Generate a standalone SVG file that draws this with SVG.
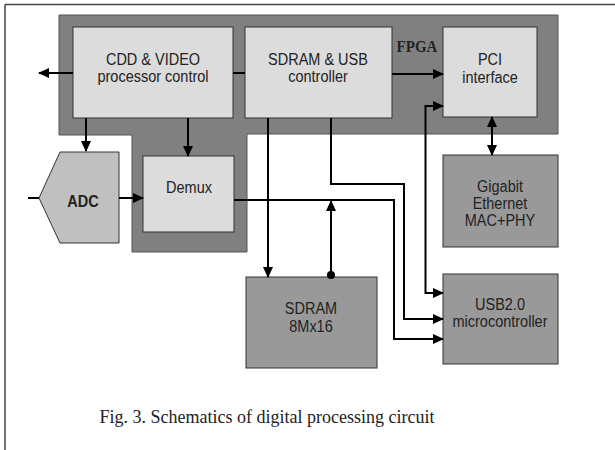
<svg xmlns="http://www.w3.org/2000/svg" width="615" height="450" viewBox="0 0 615 450">
<style>
.lt{fill:#dcdcdc;stroke:#333;stroke-width:1}
.md{fill:#999;stroke:#333;stroke-width:1}
.t{font-family:"Liberation Sans",Arial,sans-serif;font-size:14.5px;fill:#222;text-anchor:middle}
.c{fill:none;stroke:#000;stroke-width:2}
</style>
<defs>
<marker id="ah" markerUnits="userSpaceOnUse" markerWidth="11" markerHeight="10" refX="10" refY="5" orient="auto-start-reverse">
<path d="M0,0 L11,5 L0,10 z" fill="#000"/>
</marker>
</defs>
<rect width="615" height="450" fill="#fff"/>
<path d="M5,4.5 H615 M5,4.5 V450" stroke="#444" stroke-width="1.5" fill="none"/>
<g id="fpga">
<path d="M59,15 H558 V134 H247 V252 H132 V135 H59 Z" fill="#808080" stroke="#555" stroke-width="1"/>
<text transform="translate(417,52) scale(1,1.1)" font-family="'Liberation Serif','Times New Roman',serif" font-weight="bold" font-size="15" fill="#222" text-anchor="middle">FPGA</text>
</g>
<g id="cdd">
<rect class="lt" x="73" y="27" width="160" height="91"/>
<text class="t" transform="translate(153,65) scale(1,1.12)">CDD &amp; VIDEO</text>
<text class="t" transform="translate(153,82) scale(1,1.12)">processor control</text>
</g>
<g id="sdramctl">
<rect class="lt" x="245" y="27" width="147" height="91"/>
<text class="t" transform="translate(318,65) scale(1,1.12)">SDRAM &amp; USB</text>
<text class="t" transform="translate(318,82) scale(1,1.12)">controller</text>
</g>
<g id="pci">
<rect class="lt" x="443" y="27" width="94" height="90"/>
<text class="t" transform="translate(490,65) scale(1,1.12)">PCI</text>
<text class="t" transform="translate(490,83) scale(1,1.12)">interface</text>
</g>
<g id="demux">
<rect class="lt" x="143" y="156" width="91" height="76"/>
<text class="t" transform="translate(189,193) scale(1,1.12)">Demux</text>
</g>
<g id="adc">
<path d="M60,152 H119 V243 H60 L39,198 Z" fill="#c0c0c0" stroke="#333" stroke-width="1"/>
<text class="t" transform="translate(83,207) scale(1,1.12)" font-weight="bold">ADC</text>
</g>
<g id="gigabit">
<rect class="md" x="443" y="155" width="115" height="92"/>
<text class="t" transform="translate(500,192) scale(1,1.12)">Gigabit</text>
<text class="t" transform="translate(500,209) scale(1,1.12)">Ethernet</text>
<text class="t" transform="translate(500,226) scale(1,1.12)">MAC+PHY</text>
</g>
<g id="usb">
<rect class="md" x="443" y="274" width="115" height="90"/>
<text class="t" transform="translate(500,310) scale(1,1.12)">USB2.0</text>
<text class="t" transform="translate(500,327) scale(1,1.12)">microcontroller</text>
</g>
<g id="sdram">
<rect class="md" x="246" y="277" width="131" height="91"/>
<text class="t" transform="translate(311,314) scale(1,1.12)">SDRAM</text>
<text class="t" transform="translate(311,332) scale(1,1.12)">8Mx16</text>
</g>
<g id="connectors">
<path class="c" d="M73,73 H39" marker-end="url(#ah)"/>
<path class="c" d="M233,73 H245"/>
<path class="c" d="M86,118 V151" marker-end="url(#ah)"/>
<path class="c" d="M188,118 V156" marker-end="url(#ah)"/>
<path class="c" d="M28,198 H39"/>
<path class="c" d="M119,198 H143" marker-end="url(#ah)"/>
<path class="c" d="M392,74 H443" marker-end="url(#ah)"/>
<path class="c" d="M492,117 V155" marker-start="url(#ah)" marker-end="url(#ah)"/>
<path class="c" d="M443,106 H425.5 V293 H443" marker-start="url(#ah)" marker-end="url(#ah)"/>
<path class="c" d="M331,118 V184 H404 V319 H443" marker-end="url(#ah)"/>
<path class="c" d="M234,200 H394 V339 H443" marker-end="url(#ah)"/>
<path class="c" d="M268,118 V277" marker-end="url(#ah)"/>
<path class="c" d="M331,275 V201" marker-end="url(#ah)"/>
<circle cx="331" cy="275" r="4" fill="#000"/>
</g>
<text x="267" y="423" font-family="'Liberation Serif','Times New Roman',serif" font-size="18" fill="#222" text-anchor="middle">Fig. 3. Schematics of digital processing circuit</text>
</svg>
